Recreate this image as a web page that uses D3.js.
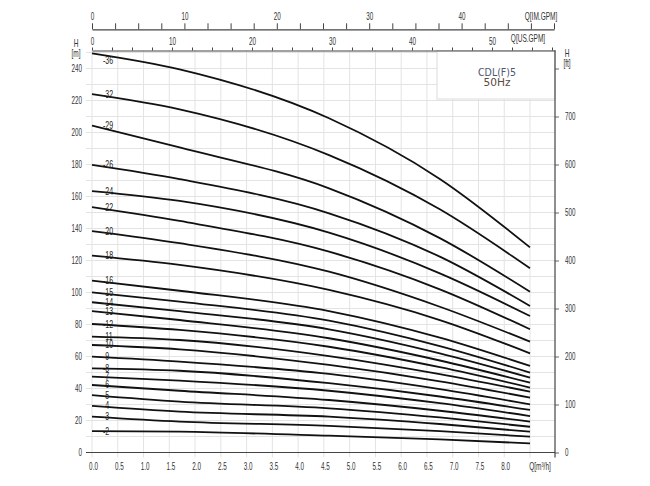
<!DOCTYPE html>
<html>
<head>
<meta charset="utf-8">
<script src="https://cdn.jsdelivr.net/npm/d3@7"></script>
<style>
	body { margin: 0; background: #fff; }
	text { font-family: "Liberation Sans", Arial, sans-serif; }
	.tick text { fill: #333; font-size: 10.5px; }
</style>
</head>
<body>
<svg id="chart" width="650" height="486"></svg>
<script>

//DATA

//number of stages, top curve first
var stages = [36, 32, 29, 26, 24, 22, 20, 18, 16, 15, 14, 13, 12, 11, 10, 9, 8, 7, 6, 5, 4, 3, 2];

var flowPoints = [0, 1.7, 4.6, 6.75, 8.5];

//head (m) for each stage at the flow points
var heads = [
	[249.5, 239.5, 208.9, 171.0, 128.2],
	[224.0, 214.5, 185.9, 152.0, 115.1],
	[204.3, 190.7, 165.1, 134.0, 100.5],
	[179.7, 170.8, 149.5, 122.4, 91.6],
	[163.4, 157.2, 137.4, 112.0, 85.3],
	[153.4, 144.7, 125.5, 102.0, 77.0],
	[138.4, 130.8, 113.0, 91.1, 69.3],
	[123.0, 117.2, 101.6, 82.8, 62.0],
	[107.4, 101.1, 88.4, 71.8, 54.1],
	[100.1, 94.3, 82.4, 66.5, 49.9],
	[93.9, 88.4, 77.0, 62.0, 46.8],
	[88.4, 82.8, 71.4, 57.5, 43.6],
	[80.3, 76.6, 66.1, 53.3, 40.6],
	[72.4, 70.3, 60.3, 49.0, 38.0],
	[67.2, 64.5, 54.7, 44.5, 34.3],
	[59.9, 56.8, 49.1, 39.6, 30.1],
	[52.6, 51.1, 43.3, 35.0, 26.6],
	[47.4, 44.9, 38.6, 30.8, 22.8],
	[42.2, 38.6, 32.8, 26.1, 19.3],
	[35.9, 31.8, 27.6, 21.9, 16.1],
	[29.1, 25.5, 22.4, 17.8, 13.0],
	[22.4, 19.3, 16.7, 13.4, 9.9],
	[13.4, 13.0, 10.5, 8.2, 5.7]
];

//tick labels
var flowTicks = [0, 0.5, 1, 1.5, 2, 2.5, 3, 3.5, 4, 4.5, 5, 5.5, 6, 6.5, 7, 7.5, 8];
var headTicks = [0, 20, 40, 60, 80, 100, 120, 140, 160, 180, 200, 220, 240];
var feetTicks = [0, 100, 200, 300, 400, 500, 600, 700];
var usGpmTicks = [0, 10, 20, 30, 40, 50];
var imGpmTicks = [0, 10, 20, 30, 40];

var modelName = "CDL(F)5";
var frequency = "50Hz";

//LAYOUT

//note: "top" is taken by window.top, so plotTop
var plotLeft = 92, plotRight = 555, plotTop = 50.5, plotBottom = 452.5;

var svg = d3.select("#chart");

//squeeze text to look like the narrow font of the original
function narrow(sel, factor) {
	sel.each(function() {
		var w = this.getComputedTextLength();
		if (w > 0) {
			d3.select(this)
				.attr("textLength", w * factor)
				.attr("lengthAdjust", "spacingAndGlyphs");
		}
	});
}

//scales
var xScale = d3.scaleLinear()
	.domain([0, 8.5])
	.range([plotLeft, 530]);

var yScale = d3.scaleLinear()
	.domain([0, 250])
	.range([plotBottom, plotBottom - 400]);

var ftScale = d3.scaleLinear()
	.domain([0, 800])
	.range([plotBottom, plotBottom - 384]);

var usScale = d3.scaleLinear()
	.domain([0, (plotRight - plotLeft) / 8])
	.range([plotLeft, plotRight]);

var imScale = d3.scaleLinear()
	.domain([0, 50])
	.range([plotLeft, plotRight - 1]);

//GRID

var grid = svg.append("g").attr("class", "grid");

grid.selectAll("line.v")
	.data(d3.range(0, 8.51, 0.5))
	.enter()
	.append("line")
	.attr("class", "v")
	.attr("x1", d => xScale(d)).attr("x2", d => xScale(d))
	.attr("y1", plotTop).attr("y2", plotBottom + 5)
	.attr("stroke", "#e3e3e3");

grid.selectAll("line.h")
	.data(d3.range(0, 251, 10))
	.enter()
	.append("line")
	.attr("class", "h")
	.attr("x1", plotLeft - 6).attr("x2", plotRight)
	.attr("y1", d => yScale(d)).attr("y2", d => yScale(d))
	.attr("stroke", "#e3e3e3");

//title box covers the grid
svg.append("rect")
	.attr("x", 437).attr("y", plotTop)
	.attr("width", plotRight - 437).attr("height", 48.5)
	.attr("fill", "#fff")
	.attr("stroke", "#dcdcdc");

svg.append("text")
	.attr("x", 497).attr("y", 75.5)
	.attr("text-anchor", "middle")
	.attr("textLength", 38)
	.attr("lengthAdjust", "spacingAndGlyphs")
	.style("font-family", "'DejaVu Sans', sans-serif")
	.style("font-size", "10.5px")
	.attr("fill", "#4d5570")
	.text(modelName);

svg.append("text")
	.attr("x", 497).attr("y", 86)
	.attr("text-anchor", "middle")
	.attr("textLength", 27)
	.attr("lengthAdjust", "spacingAndGlyphs")
	.style("font-family", "'DejaVu Sans', sans-serif")
	.style("font-size", "10.5px")
	.attr("fill", "#5b4a42")
	.text(frequency);

//AXES

//bottom axis m3/h
var xAxis = d3.axisBottom(xScale)
	.tickValues(flowTicks)
	.tickFormat(d3.format(".1f"))
	.tickSize(0)
	.tickPadding(10);

svg.append("g")
	.attr("class", "xAxis")
	.attr("transform", "translate(1," + plotBottom + ")")
	.call(xAxis)
	.call(g => g.select(".domain").remove());

svg.append("line")
	.attr("x1", plotLeft - 6).attr("x2", plotRight)
	.attr("y1", plotBottom).attr("y2", plotBottom)
	.attr("stroke", "#444").attr("stroke-width", 1.2);

//left axis m
var yAxis = d3.axisLeft(yScale)
	.tickValues(headTicks)
	.tickSize(0)
	.tickPadding(4);

svg.append("g")
	.attr("class", "yAxis")
	.attr("transform", "translate(" + (plotLeft - 6) + ",0)")
	.call(yAxis)
	.call(g => g.select(".domain").remove());

//right axis ft
var ftAxis = d3.axisRight(ftScale)
	.tickValues(d3.range(0, 801, 100))
	.tickFormat(d => feetTicks.indexOf(d) >= 0 ? d : "")
	.tickSize(4)
	.tickSizeOuter(0)
	.tickPadding(6);

svg.append("g")
	.attr("class", "ftAxis")
	.attr("transform", "translate(" + plotRight + ",0)")
	.call(ftAxis)
	.call(g => g.select(".domain").remove())
	.call(g => g.selectAll(".tick line").attr("stroke", "#666"));

svg.append("line")
	.attr("x1", plotRight).attr("x2", plotRight)
	.attr("y1", plotTop).attr("y2", plotBottom + 5)
	.attr("stroke", "#444").attr("stroke-width", 1.2);

//top axis US GPM
var usAxis = d3.axisTop(usScale)
	.tickValues(d3.range(0, 57.6, 2.5))
	.tickFormat(d => usGpmTicks.indexOf(d) >= 0 ? d : "")
	.tickSize(3)
	.tickSizeOuter(0)
	.tickPadding(3);

svg.append("g")
	.attr("class", "usAxis")
	.attr("transform", "translate(0," + plotTop + ")")
	.call(usAxis)
	.call(g => g.select(".domain").attr("stroke", "#444").attr("stroke-width", 1.2))
	.call(g => g.selectAll(".tick line").attr("stroke", "#444"));

//top axis IM GPM
var imAxis = d3.axisTop(imScale)
	.tickValues(d3.range(0, 50.1, 2.5))
	.tickFormat(d => imGpmTicks.indexOf(d) >= 0 ? d : "")
	.tickSize(6)
	.tickSizeOuter(0)
	.tickPadding(3);

svg.append("g")
	.attr("class", "imAxis")
	.attr("transform", "translate(0,29.3)")
	.call(imAxis)
	.call(g => g.select(".domain").attr("stroke", "#444").attr("stroke-width", 1.2))
	.call(g => g.selectAll(".tick line").attr("stroke", "#444"));

//axis titles
var titles = [
	["Q[IM.GPM]", 541, 20],
	["Q[US.GPM]", 528, 42],
	["Q[m\u00b3/h]", 540, 470],
	["H", 76, 47],
	["[m]", 76, 57],
	["H", 567, 57],
	["[ft]", 567, 67]
];

svg.selectAll("text.title")
	.data(titles)
	.enter()
	.append("text")
	.attr("class", "title")
	.attr("x", d => d[1])
	.attr("y", d => d[2])
	.attr("text-anchor", "middle")
	.attr("fill", "#333")
	.style("font-size", "10.5px")
	.text(d => d[0]);

//CURVES

var line = d3.line()
	.x(d => xScale(d[0]))
	.y(d => yScale(d[1]))
	.curve(d3.curveMonotoneX);

svg.selectAll("path.curve")
	.data(heads)
	.enter()
	.append("path")
	.attr("class", "curve")
	.attr("d", h => line(flowPoints.map((q, i) => [q, h[i]])))
	.attr("fill", "none")
	.attr("stroke", "#111")
	.attr("stroke-width", 1.8);

//stage labels near the start of each curve
svg.selectAll("text.stage")
	.data(stages)
	.enter()
	.append("text")
	.attr("class", "stage")
	.attr("x", xScale(0) + 11)
	.attr("y", (d, i) => yScale(heads[i][0]) + (d == 36 ? 7 : 0))
	.attr("dy", "0.35em")
	.attr("fill", "#222")
	.style("font-size", "10px")
	.text(d => "-" + d);

//make all small texts narrow
svg.selectAll(".tick text").call(narrow, 0.6);
svg.selectAll("text.title").call(narrow, 0.62);
svg.selectAll("text.stage").call(narrow, 0.7);

</script>
</body>
</html>
